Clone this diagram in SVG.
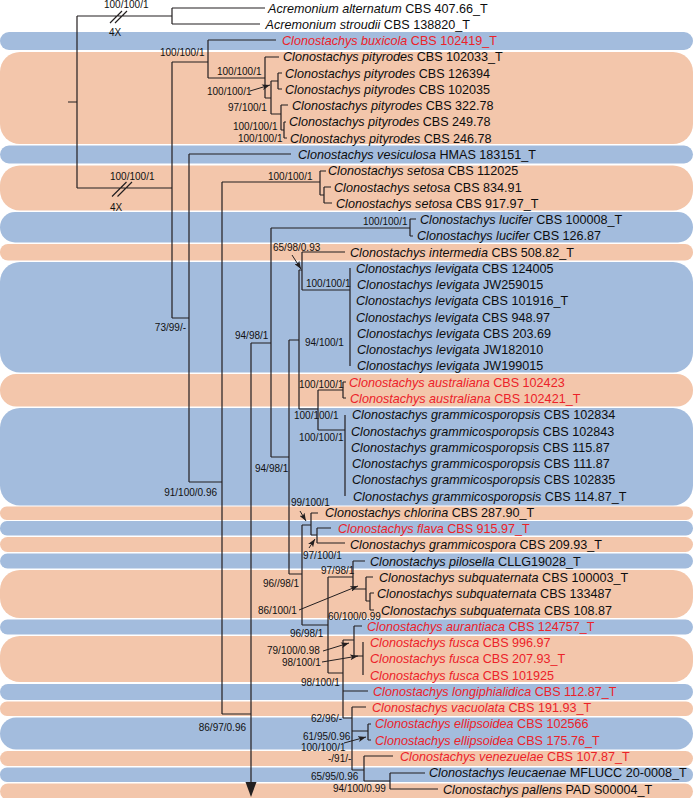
<svg xmlns="http://www.w3.org/2000/svg" width="694" height="798" viewBox="0 0 694 798">
<style>
.b{fill:#a3bcdd}.s{fill:#f3c6ab}
.t{font-family:"Liberation Sans",Arial,sans-serif;font-size:12.6px;fill:#0d0d0d}
.r{fill:#ec2229}
.i{font-style:italic}
.l{font-family:"Liberation Sans",Arial,sans-serif;font-size:10px;fill:#111}
.e{text-anchor:end}
.ln{fill:none;stroke:#231f20;stroke-width:1.2}
.ar{fill:none;stroke:#231f20;stroke-width:1}
</style>
<defs>
<marker id="ah" viewBox="0 0 8 6" refX="8" refY="3" markerWidth="8" markerHeight="6" markerUnits="userSpaceOnUse" orient="auto"><path d="M0,0L8,3L0,6L2,3z" fill="#231f20"/></marker>
</defs>
<g id="bands">
<rect class="b" x="0" y="32" width="693" height="18" rx="9"/>
<rect class="s" x="0" y="52" width="693" height="92" rx="20"/>
<rect class="b" x="0" y="145.5" width="693" height="18" rx="9"/>
<rect class="s" x="0" y="165.5" width="693" height="45" rx="20"/>
<rect class="b" x="0" y="212" width="693" height="30.5" rx="15"/>
<rect class="s" x="0" y="244" width="693" height="16.5" rx="8"/>
<rect class="b" x="0" y="262" width="693" height="110.5" rx="20"/>
<rect class="s" x="0" y="374" width="693" height="32.5" rx="16"/>
<rect class="b" x="0" y="408" width="693" height="97.5" rx="20"/>
<rect class="s" x="0" y="506.5" width="693" height="13.5" rx="6.7"/>
<rect class="b" x="0" y="521" width="693" height="14.5" rx="7"/>
<rect class="s" x="0" y="537" width="693" height="15" rx="7.5"/>
<rect class="b" x="0" y="553.5" width="693" height="15" rx="7.5"/>
<rect class="s" x="0" y="570" width="693" height="48" rx="20"/>
<rect class="b" x="0" y="619.5" width="693" height="15" rx="7.5"/>
<rect class="s" x="0" y="636" width="693" height="46" rx="20"/>
<rect class="b" x="0" y="684" width="693" height="16" rx="8"/>
<rect class="s" x="0" y="701.5" width="693" height="14.5" rx="7"/>
<rect class="b" x="0" y="717.5" width="693" height="32" rx="16"/>
<rect class="s" x="0" y="751" width="693" height="15" rx="7.5"/>
<rect class="b" x="0" y="767.5" width="693" height="14.5" rx="7"/>
<rect class="s" x="0" y="783.5" width="693" height="16" rx="8"/>
</g>
<g id="connectors">
<path class="ln" d="M68,102H77M77,16V188M77,16H172M172,8V24M172,8H265M172,24H260M77,188H172
M110,23L122,11M115,23L127,11M112,196.5L126.5,182M117.5,196.5L132,182
M172,62V318M172,62H208M208,40V78M208,40H276M208,78H265
M265,57V98M265,57H279M265,98H271M271,81V114M271,81H278M278,73V89M278,73H282M278,89H282M271,114H281M281,105V130M281,105H288M281,130H284M284,122V138M284,122H286M284,138H287
M172,318H189M189,154V482M189,154H291M189,482H222
M222,182V714M222,182H320M320,171V195M320,171H326M320,195H324M324,187V203M324,187H331M324,203H332
M222,714H251M251,343V785
M251,343H271M271,228V457M271,228H410M410,219V236M410,219H416M410,236H413
M271,457H289M289,340V574M289,340H299M299,270V409M299,270H302M302,252V290M302,252H345M302,290H350M350,268V366
M299,409H318M318,390V430M318,390H343M343,382V398M343,382H346M343,398H346M318,430H345M345,415V496
M289,574H302M302,525V625M302,525H311M311,513V535M311,513H318M311,535H317M317,528V543M317,528H331M317,543H345
M302,625H328M328,577V673M328,577H353M353,561V589M353,561H365M353,589H366M366,577V601M366,577H373M366,601H370M370,593V610M370,593H374M370,610H374
M328,673H343M343,640V718M343,640H354M354,626V656M354,626H362M354,656H363M363,642V675M343,691H368M343,718H352
M352,707V770M352,707H366M352,731H368M368,724V740M368,724H371M368,740H371M352,770H364M364,756V781M364,756H393M364,781H390M390,773V789M390,773H425M390,789H438"/>
<polygon points="245.5,782 256.5,782 251,797" fill="#231f20"/>
<path class="ar" marker-end="url(#ah)" d="M250,91L270,85"/>
<path class="ar" marker-end="url(#ah)" d="M292,255L301,269"/>
<path class="ar" marker-end="url(#ah)" d="M300,511L306,521"/>
<path class="ar" marker-end="url(#ah)" d="M309,548L315,539"/>
<path class="ar" marker-end="url(#ah)" d="M299,610L358,586"/>
<path class="ar" marker-end="url(#ah)" d="M323,651L349,643"/>
<path class="ar" marker-end="url(#ah)" d="M322,662L358,656"/>
<path class="ar" marker-end="url(#ah)" d="M344,743L366,737"/>
</g>
<g id="support">
<text class="l" x="104" y="7.5">100/100/1</text>
<text class="l" x="109" y="35.5">4X</text>
<text class="l" x="110" y="179.5">100/100/1</text>
<text class="l" x="110" y="210.5">4X</text>
<text class="l" x="160" y="55.5">100/100/1</text>
<text class="l" x="217" y="74.5">100/100/1</text>
<text class="l" x="207" y="95">100/100/1</text>
<text class="l" x="228" y="110.5">97/100/1</text>
<text class="l" x="233" y="129.5">100/100/1</text>
<text class="l" x="238" y="141.5">100/100/1</text>
<text class="l" x="268" y="179.5">100/100/1</text>
<text class="l e" x="186" y="331">73/99/-</text>
<text class="l" x="363" y="224.5">100/100/1</text>
<text class="l" x="273" y="250.5">65/98/0.93</text>
<text class="l" x="306" y="286.5">100/100/1</text>
<text class="l" x="235" y="338.5">94/98/1</text>
<text class="l" x="305" y="345.5">94/100/1</text>
<text class="l" x="299" y="387.5">100/100/1</text>
<text class="l" x="294" y="418.5">100/100/1</text>
<text class="l" x="299" y="440.5">100/100/1</text>
<text class="l" x="255" y="471.5">94/98/1</text>
<text class="l e" x="217" y="495.5">91/100/0.96</text>
<text class="l" x="291" y="505.5">99/100/1</text>
<text class="l" x="303" y="558.5">97/100/1</text>
<text class="l" x="321" y="573.5">97/98/1</text>
<text class="l" x="263" y="586.5">96//98/1</text>
<text class="l" x="258" y="613.5">86/100/1</text>
<text class="l" x="328" y="619.5">60/100/0.99</text>
<text class="l" x="290" y="636.5">96/98/1</text>
<text class="l" x="267" y="654">79/100/0.98</text>
<text class="l" x="282" y="666">98/100/1</text>
<text class="l" x="301" y="685.5">98/100/1</text>
<text class="l" x="311" y="721.5">62/96/-</text>
<text class="l e" x="246" y="730.5">86/97/0.96</text>
<text class="l" x="303" y="739.5">61/95/0.96</text>
<text class="l" x="301" y="750.5">100/100/1</text>
<text class="l" x="328" y="761.5">-/91/-</text>
<text class="l" x="311" y="779.5">65/95/0.96</text>
<text class="l" x="333" y="791.5">94/100/0.99</text>
</g>
<g id="t01"><text class="t" x="268" y="12.5"><tspan class="i">Acremonium alternatum</tspan> CBS 407.66_T</text></g>
<g id="t02"><text class="t" x="265.5" y="28.8"><tspan class="i">Acremonium stroudii</tspan> CBS 138820_T</text></g>
<g id="t03"><text class="t r" x="282" y="45"><tspan class="i">Clonostachys buxicola</tspan> CBS 102419_T</text></g>
<g id="t04"><text class="t" x="283" y="61.3"><tspan class="i">Clonostachys pityrodes</tspan> CBS 102033_T</text></g>
<g id="t05"><text class="t" x="285" y="77.6"><tspan class="i">Clonostachys pityrodes</tspan> CBS 126394</text></g>
<g id="t06"><text class="t" x="285" y="93.9"><tspan class="i">Clonostachys pityrodes</tspan> CBS 102035</text></g>
<g id="t07"><text class="t" x="292" y="110.1"><tspan class="i">Clonostachys pityrodes</tspan> CBS 322.78</text></g>
<g id="t08"><text class="t" x="289" y="126.4"><tspan class="i">Clonostachys pityrodes</tspan> CBS 249.78</text></g>
<g id="t09"><text class="t" x="290" y="142.7"><tspan class="i">Clonostachys pityrodes</tspan> CBS 246.78</text></g>
<g id="t10"><text class="t" x="298" y="158.9"><tspan class="i">Clonostachys vesiculosa</tspan> HMAS 183151_T</text></g>
<g id="t11"><text class="t" x="328" y="175.2"><tspan class="i">Clonostachys setosa</tspan> CBS 112025</text></g>
<g id="t12"><text class="t" x="334" y="191.5"><tspan class="i">Clonostachys setosa</tspan> CBS 834.91</text></g>
<g id="t13"><text class="t" x="336" y="207.7"><tspan class="i">Clonostachys setosa</tspan> CBS 917.97_T</text></g>
<g id="t14"><text class="t" x="420" y="224"><tspan class="i">Clonostachys lucifer</tspan> CBS 100008_T</text></g>
<g id="t15"><text class="t" x="417" y="240.3"><tspan class="i">Clonostachys lucifer</tspan> CBS 126.87</text></g>
<g id="t16"><text class="t" x="350" y="256.6"><tspan class="i">Clonostachys intermedia</tspan> CBS 508.82_T</text></g>
<g id="t17"><text class="t" x="356" y="272.8"><tspan class="i">Clonostachys levigata</tspan> CBS 124005</text></g>
<g id="t18"><text class="t" x="357" y="289.1"><tspan class="i">Clonostachys levigata</tspan> JW259015</text></g>
<g id="t19"><text class="t" x="356" y="305.4"><tspan class="i">Clonostachys levigata</tspan> CBS 101916_T</text></g>
<g id="t20"><text class="t" x="356" y="321.6"><tspan class="i">Clonostachys levigata</tspan> CBS 948.97</text></g>
<g id="t21"><text class="t" x="357" y="337.9"><tspan class="i">Clonostachys levigata</tspan> CBS 203.69</text></g>
<g id="t22"><text class="t" x="357" y="354.2"><tspan class="i">Clonostachys levigata</tspan> JW182010</text></g>
<g id="t23"><text class="t" x="357" y="370.4"><tspan class="i">Clonostachys levigata</tspan> JW199015</text></g>
<g id="t24"><text class="t r" x="349" y="386.7"><tspan class="i">Clonostachys australiana</tspan> CBS 102423</text></g>
<g id="t25"><text class="t r" x="350" y="403"><tspan class="i">Clonostachys australiana</tspan> CBS 102421_T</text></g>
<g id="t26"><text class="t" x="352" y="419.3"><tspan class="i">Clonostachys grammicosporopsis</tspan> CBS 102834</text></g>
<g id="t27"><text class="t" x="351" y="435.5"><tspan class="i">Clonostachys grammicosporopsis</tspan> CBS 102843</text></g>
<g id="t28"><text class="t" x="351" y="451.8"><tspan class="i">Clonostachys grammicosporopsis</tspan> CBS 115.87</text></g>
<g id="t29"><text class="t" x="352" y="468.1"><tspan class="i">Clonostachys grammicosporopsis</tspan> CBS 111.87</text></g>
<g id="t30"><text class="t" x="352" y="484.3"><tspan class="i">Clonostachys grammicosporopsis</tspan> CBS 102835</text></g>
<g id="t31"><text class="t" x="353" y="500.6"><tspan class="i">Clonostachys grammicosporopsis</tspan> CBS 114.87_T</text></g>
<g id="t32"><text class="t" x="325" y="516.9"><tspan class="i">Clonostachys chlorina</tspan> CBS 287.90_T</text></g>
<g id="t33"><text class="t r" x="338" y="533.1"><tspan class="i">Clonostachys flava</tspan> CBS 915.97_T</text></g>
<g id="t34"><text class="t" x="350" y="549.4"><tspan class="i">Clonostachys grammicospora</tspan> CBS 209.93_T</text></g>
<g id="t35"><text class="t" x="370" y="565.7"><tspan class="i">Clonostachys pilosella</tspan> CLLG19028_T</text></g>
<g id="t36"><text class="t" x="379" y="582"><tspan class="i">Clonostachys subquaternata</tspan> CBS 100003_T</text></g>
<g id="t37"><text class="t" x="377" y="598.2"><tspan class="i">Clonostachys subquaternata</tspan> CBS 133487</text></g>
<g id="t38"><text class="t" x="381" y="614.5"><tspan class="i">Clonostachys subquaternata</tspan> CBS 108.87</text></g>
<g id="t39"><text class="t r" x="367" y="630.8"><tspan class="i">Clonostachys aurantiaca</tspan> CBS 124757_T</text></g>
<g id="t40"><text class="t r" x="370" y="647"><tspan class="i">Clonostachys fusca</tspan> CBS 996.97</text></g>
<g id="t41"><text class="t r" x="370" y="663.3"><tspan class="i">Clonostachys fusca</tspan> CBS 207.93_T</text></g>
<g id="t42"><text class="t r" x="370" y="679.6"><tspan class="i">Clonostachys fusca</tspan> CBS 101925</text></g>
<g id="t43"><text class="t r" x="373" y="695.8"><tspan class="i">Clonostachys longiphialidica</tspan> CBS 112.87_T</text></g>
<g id="t44"><text class="t r" x="372" y="712.1"><tspan class="i">Clonostachys vacuolata</tspan> CBS 191.93_T</text></g>
<g id="t45"><text class="t r" x="375" y="728.4"><tspan class="i">Clonostachys ellipsoidea</tspan> CBS 102566</text></g>
<g id="t46"><text class="t r" x="375" y="744.7"><tspan class="i">Clonostachys ellipsoidea</tspan> CBS 175.76_T</text></g>
<g id="t47"><text class="t r" x="400" y="760.9"><tspan class="i">Clonostachys venezuelae</tspan> CBS 107.87_T</text></g>
<g id="t48"><text class="t" x="429" y="777.2"><tspan class="i">Clonostachys leucaenae</tspan> MFLUCC 20-0008_T</text></g>
<g id="t49"><text class="t" x="443" y="793.5"><tspan class="i">Clonostachys pallens</tspan> PAD S00004_T</text></g>
</svg>
